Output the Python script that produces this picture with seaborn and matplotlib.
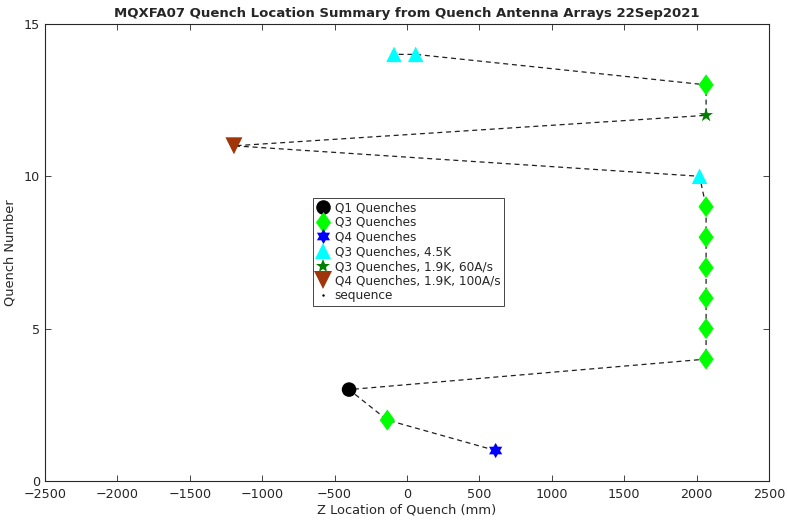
import numpy as np
import pandas as pd
import matplotlib
matplotlib.use("Agg")
import matplotlib.pyplot as plt
import seaborn as sns
from matplotlib.lines import Line2D

# quench sequence
quench_no = [1, 2, 3, 4, 5, 6, 7, 8, 9, 10, 11, 12, 13, 14, 14]
z_loc = [612, -136, -400, 2065, 2065, 2065, 2065, 2065, 2065, 2020, -1195, 2065, 2065, 60, -90]
group = ["Q4 Quenches", "Q3 Quenches", "Q1 Quenches",
         "Q3 Quenches", "Q3 Quenches", "Q3 Quenches", "Q3 Quenches", "Q3 Quenches", "Q3 Quenches",
         "Q3 Quenches, 4.5K", "Q4 Quenches, 1.9K, 100A/s", "Q3 Quenches, 1.9K, 60A/s",
         "Q3 Quenches", "Q3 Quenches, 4.5K", "Q3 Quenches, 4.5K"]

groups = ["Q1 Quenches", "Q3 Quenches", "Q4 Quenches", "Q3 Quenches, 4.5K",
          "Q3 Quenches, 1.9K, 60A/s", "Q4 Quenches, 1.9K, 100A/s"]

df = pd.DataFrame({"z": z_loc, "q": quench_no, "group": group})

# six pointed star (MATLAB hexagram) and MATLAB-like diamond
ang = np.deg2rad(np.arange(0, 360, 30) + 90)
rad = np.where(np.arange(12) % 2 == 0, 1.0, 0.58)
hexagram = list(zip(rad * np.cos(ang), rad * np.sin(ang)))
diamond = [(0, 1), (0.72, 0), (0, -1), (-0.72, 0), (0, 1)]

styles = {
    "Q1 Quenches": dict(marker="o", color="black", s=110),
    "Q3 Quenches": dict(marker=diamond, color="#00ff00", s=230),
    "Q4 Quenches": dict(marker=hexagram, color="#0000ff", s=120),
    "Q3 Quenches, 4.5K": dict(marker="^", color="#00ffff", s=125),
    "Q3 Quenches, 1.9K, 60A/s": dict(marker="*", color="#007f00", s=110),
    "Q4 Quenches, 1.9K, 100A/s": dict(marker="v", color="#a0350a", s=150),
}

sns.set_style("white")
plt.rcParams["font.family"] = ["DejaVu Sans"]
plt.rcParams["xtick.direction"] = "in"
plt.rcParams["ytick.direction"] = "in"

fig, ax = plt.subplots(figsize=(7.88, 5.2), dpi=100)
fig.subplots_adjust(left=0.057, right=0.976, top=0.954, bottom=0.075)

sns.lineplot(data=df, x="z", y="q", sort=False, estimator=None, ax=ax,
             color="#202020", linewidth=0.9, linestyle=(0, (4, 3)), zorder=1)

handles = []
for g in groups:
    sub = df[df["group"] == g]
    st = styles[g]
    sns.scatterplot(data=sub, x="z", y="q", marker=st["marker"], color=st["color"],
                    s=st["s"], edgecolor="none", ax=ax, zorder=3)
    handles.append(Line2D([], [], linestyle="none", marker=st["marker"],
                          color=st["color"], markersize=np.sqrt(st["s"]) * 1.0,
                          markeredgewidth=0, label=g))
handles.append(Line2D([], [], linestyle="none", marker=".", markersize=1.5,
                      color="black", label="sequence"))

ax.set_xlim(-2500, 2500)
ax.set_ylim(0, 15)
ax.set_xticks(np.arange(-2500, 2501, 500))
ax.set_yticks([0, 5, 10, 15])
ax.tick_params(labelsize=9.2, length=4, width=0.6, colors="#262626", top=True, right=True,
               labeltop=False, labelright=False, bottom=True, left=True)
ax.tick_params(axis="x", pad=5)
for sp in ax.spines.values():
    sp.set_color("#262626")
    sp.set_linewidth(0.8)

ax.set_xlabel("Z Location of Quench (mm)", fontsize=9.4, color="#262626", labelpad=2)
ax.set_ylabel("Quench Number", fontsize=9.4, color="#262626", labelpad=5)
ax.set_title("MQXFA07 Quench Location Summary from Quench Antenna Arrays 22Sep2021",
             fontsize=9.5, fontweight="bold", pad=5)

leg = ax.legend(handles=handles, loc="upper left", bbox_to_anchor=(0.37, 0.62),
                fontsize=8.7, frameon=True, fancybox=False, framealpha=1,
                edgecolor="#262626", labelspacing=0.14, handlelength=1.0,
                handletextpad=0.5, borderpad=0.3, borderaxespad=0)
leg.get_frame().set_linewidth(0.6)

fig.savefig("out.png", dpi=100)
